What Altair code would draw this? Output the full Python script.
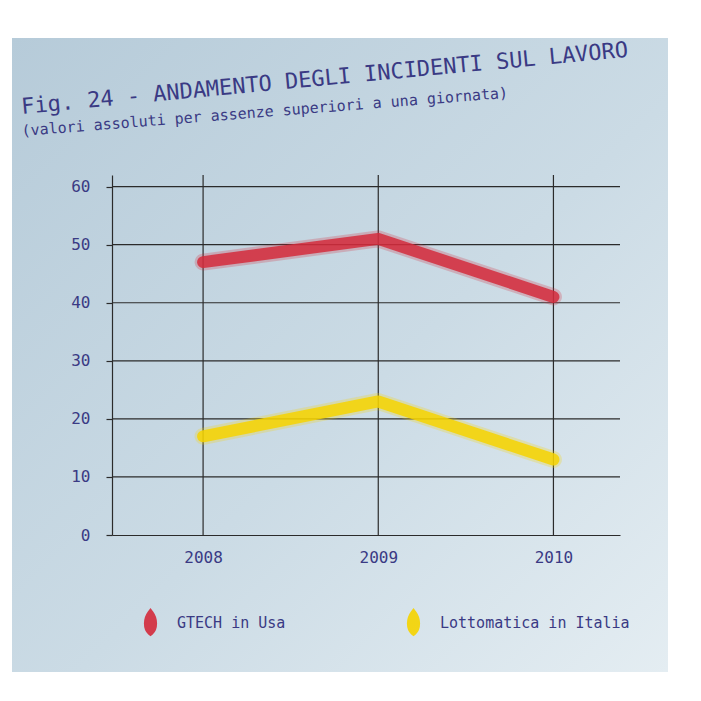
import altair as alt
import pandas as pd

# ---- data (values relative to the drawn grid) ----
years = [2008, 2009, 2010]
gtech_usa = [47, 51, 41]
lottomatica_italia = [17, 23, 13]
series = ["GTECH in Usa", "Lottomatica in Italia"]
series_colors = ["#d42b3c", "#f6d400"]
y_ticks = [0, 10, 20, 30, 40, 50, 60]
title_text = "Fig. 24 - ANDAMENTO DEGLI INCIDENTI SUL LAVORO"
subtitle_text = "(valori assoluti per assenze superiori a una giornata)"

rows = []
for name, vals in zip(series, [gtech_usa, lottomatica_italia]):
    for yr, v in zip(years, vals):
        rows.append({"anno": yr, "valore": v, "serie": name})
df = pd.DataFrame(rows)
grid_y = pd.DataFrame({"valore": y_ticks[1:]})
grid_x = pd.DataFrame({"anno": years})

W, H = 508, 360
PAD_L, PAD_T = 104, 167
NAVY = "#3a3a84"
INK = "#2b2b2b"
FONT = "DejaVu Sans Mono"

x_scale = alt.Scale(domain=[2007.48, 2010.38], nice=False, zero=False)
y_scale = alt.Scale(domain=[0, 62], nice=False)

x_enc = alt.X(
    "anno:Q", scale=x_scale,
    axis=alt.Axis(values=years, format="d", title=None, grid=False,
                  domain=True, domainColor=INK, domainWidth=1.2,
                  ticks=False, labelFont=FONT, labelFontSize=16,
                  labelColor=NAVY, labelPadding=14, zindex=1),
)
y_enc = alt.Y(
    "valore:Q", scale=y_scale,
    axis=alt.Axis(values=y_ticks, title=None, grid=False,
                  domain=True, domainColor=INK, domainWidth=1.2,
                  ticks=True, tickColor=INK, tickSize=6, tickWidth=1.2,
                  labelFont=FONT, labelFontSize=16, labelColor=NAVY,
                  labelPadding=16, zindex=1),
)

note_gradient = alt.LinearGradient(
    gradient="linear",
    stops=[alt.GradientStop(color="#b6cbd9", offset=0),
           alt.GradientStop(color="#cbdbe5", offset=0.55),
           alt.GradientStop(color="#e4edf2", offset=1)],
    x1=0, x2=1, y1=0, y2=1,
)

one = pd.DataFrame({"k": [0]})
note = alt.Chart(one).mark_rect(color=note_gradient).encode(
    x=alt.value(12 - 8 - PAD_L), x2=alt.value(668 - 8 - PAD_L),
    y=alt.value(38 - 8 - PAD_T), y2=alt.value(672 - 8 - PAD_T),
)

hgrid = alt.Chart(grid_y).mark_rule(color=INK, strokeWidth=1.2).encode(
    y=alt.Y("valore:Q", scale=y_scale)
)
vgrid = alt.Chart(grid_x).mark_rule(color=INK, strokeWidth=1.2).encode(
    x=alt.X("anno:Q", scale=x_scale)
)

title_mark = alt.Chart(one).mark_text(
    align="left", baseline="alphabetic", angle=354.6, font=FONT,
    fontSize=22, color=NAVY,
).encode(x=alt.value(22 - 8 - PAD_L), y=alt.value(114 - 8 - PAD_T), text=alt.value(title_text))

subtitle_mark = alt.Chart(one).mark_text(
    align="left", baseline="alphabetic", angle=355.5, font=FONT,
    fontSize=15, color=NAVY,
).encode(x=alt.value(22 - 8 - PAD_L), y=alt.value(136 - 8 - PAD_T), text=alt.value(subtitle_text))

legend_def = alt.Legend(
    title=None, orient="none", direction="horizontal",
    legendX=140 - 8 - PAD_L, legendY=612 - 8 - PAD_T, columnPadding=110, zindex=1,
    symbolType="M0,-1.3 C0.6,-0.5 0.6,0.8 0,1.3 C-0.6,0.8 -0.6,-0.5 0,-1.3 Z",
    symbolSize=190, symbolStrokeWidth=7, symbolOpacity=0.9,
    labelFont=FONT, labelFontSize=15, labelColor=NAVY, labelOffset=16,
    labelLimit=300,
)
color_enc = alt.Color(
    "serie:N", scale=alt.Scale(domain=series, range=series_colors), legend=legend_def,
)

base = alt.Chart(df).encode(x=x_enc, y=y_enc, color=color_enc)
glow = base.mark_line(strokeWidth=17, opacity=0.25, strokeCap="round", strokeJoin="round")
core = base.mark_line(strokeWidth=12, opacity=0.85, strokeCap="round", strokeJoin="round")

chart = alt.layer(note, hgrid, vgrid, title_mark, subtitle_mark, glow, core).properties(
    width=W, height=H,
    autosize=alt.AutoSizeParams(type="none"),
    padding={"left": PAD_L, "top": PAD_T, "right": 685 - PAD_L - W, "bottom": 685 - PAD_T - H},
    background="white",
).configure_view(stroke=None)

chart.save("out.html", embed_options={"renderer": "svg", "actions": False})
